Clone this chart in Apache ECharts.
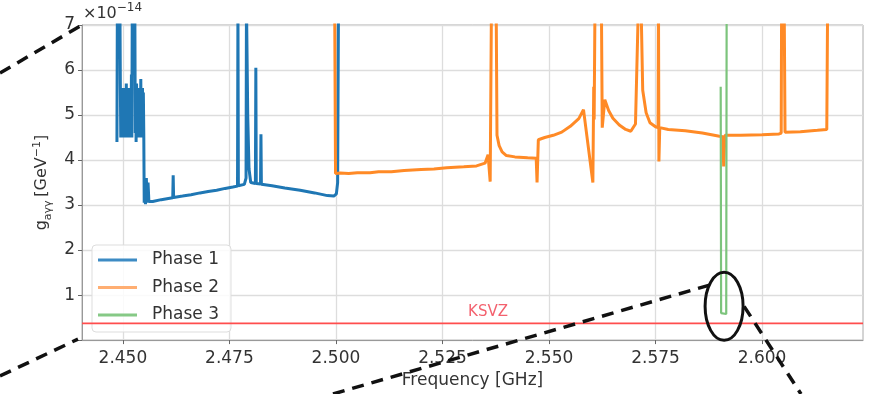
<!DOCTYPE html>
<html><head><meta charset="utf-8">
<script src="https://cdn.jsdelivr.net/npm/echarts@6/dist/echarts.min.js"></script>
<style>html,body{margin:0;padding:0;background:#fff}#c{width:869px;height:394px}</style>
</head><body><div id="c"></div>
<script>
// ---- data (frequency in GHz, coupling in units of 1e-14 GeV^-1) ----
const xMin = 2.4404, xMax = 2.6237;
const xTicks = [2.450, 2.475, 2.500, 2.525, 2.550, 2.575, 2.600];
const yTicks = [0, 1, 2, 3, 4, 5, 6, 7];
const ksvzValue = 0.37;
const ksvzLabelFreq = 2.5357;

const phase1 = [
  [2.4486, 4.4], [2.4487, 7.5], [2.4493, 7.5], [2.4494, 5.7], [2.4495, 4.5], [2.4496, 5.6],
  [2.4497, 4.6], [2.4498, 5.5], [2.4499, 4.5], [2.4500, 5.6], [2.4501, 4.6], [2.4502, 5.3],
  [2.4503, 4.5], [2.4504, 5.6], [2.4505, 4.6], [2.4506, 5.4], [2.4507, 4.7], [2.4508, 5.7],
  [2.4509, 4.5], [2.4510, 5.5], [2.4511, 4.6], [2.4512, 5.2], [2.4513, 4.5], [2.4514, 5.6],
  [2.4515, 4.6], [2.4516, 5.4], [2.4517, 4.5], [2.4518, 5.5], [2.4519, 4.6], [2.4520, 5.9],
  [2.4521, 4.5], [2.4522, 7.5],
  [2.4528, 7.5], [2.4529, 4.6], [2.4530, 5.5], [2.4531, 4.4], [2.4532, 5.7], [2.4533, 4.5],
  [2.4534, 5.5], [2.4535, 4.6], [2.4536, 5.6], [2.4537, 4.5], [2.4538, 5.3], [2.4539, 4.6],
  [2.4540, 5.6], [2.4541, 4.5], [2.4542, 5.8], [2.4543, 4.5], [2.4544, 5.5], [2.4545, 4.6],
  [2.4546, 5.6], [2.4547, 4.6], [2.4548, 5.5], [2.4549, 4.6],
  [2.4550, 3.05], [2.4551, 3.45], [2.4553, 3.02], [2.4555, 3.6], [2.4557, 3.05], [2.4559, 3.5],
  [2.4561, 3.08], [2.4570, 3.08], [2.4590, 3.12], [2.4610, 3.15], [2.4617, 3.16], [2.4618, 3.66],
  [2.4619, 3.17], [2.4640, 3.2], [2.4660, 3.23], [2.4681, 3.27], [2.4700, 3.3], [2.4720, 3.33],
  [2.4740, 3.37], [2.4758, 3.4], [2.4769, 3.42], [2.4770, 7.5], [2.4771, 3.43], [2.4785, 3.46],
  [2.4789, 3.6], [2.4790, 7.5], [2.4792, 7.5], [2.4793, 4.97], [2.4796, 3.8], [2.4800, 3.5],
  [2.4811, 3.48], [2.4812, 6.05], [2.4813, 3.48], [2.4823, 3.47], [2.4824, 4.57], [2.4825, 3.46],
  [2.4850, 3.43], [2.4880, 3.38], [2.4916, 3.33], [2.4950, 3.27], [2.4980, 3.21], [2.4995, 3.2],
  [2.5001, 3.25], [2.5004, 3.5], [2.5006, 7.5]
];

const phase2 = [
  [2.4997, 7.5], [2.4999, 3.70], [2.5010, 3.71], [2.5030, 3.70], [2.5050, 3.72], [2.5080, 3.72],
  [2.5100, 3.74], [2.5130, 3.74], [2.5160, 3.77], [2.5200, 3.79], [2.5230, 3.80], [2.5260, 3.83],
  [2.5300, 3.85], [2.5330, 3.87], [2.5350, 3.93], [2.5357, 4.12], [2.5362, 3.52], [2.5365, 7.5],
  [2.5376, 7.5], [2.5378, 4.55], [2.5383, 4.32], [2.5390, 4.18], [2.5400, 4.10], [2.5420, 4.07],
  [2.5450, 4.05], [2.5470, 4.04], [2.5472, 3.50], [2.5475, 4.45], [2.5490, 4.50], [2.5510, 4.55],
  [2.5530, 4.62], [2.5550, 4.75], [2.5570, 4.92], [2.5581, 5.12], [2.5603, 3.50], [2.5605, 5.63],
  [2.5606, 4.9], [2.5608, 7.5], [2.5623, 7.5], [2.5625, 4.72], [2.5631, 5.34], [2.5640, 5.1],
  [2.5650, 4.93], [2.5665, 4.78], [2.5680, 4.68], [2.5692, 4.64], [2.5703, 4.8], [2.5710, 7.5],
  [2.5716, 7.5], [2.5720, 5.55], [2.5728, 5.05], [2.5737, 4.83], [2.5750, 4.74], [2.5756, 4.72],
  [2.5757, 7.5], [2.5758, 3.97], [2.5760, 4.72], [2.5780, 4.68], [2.5820, 4.65], [2.5860, 4.6],
  [2.5900, 4.53], [2.5908, 4.52], [2.5910, 3.86], [2.5913, 4.55], [2.5950, 4.55], [2.6000, 4.56],
  [2.6040, 4.58], [2.6045, 4.6], [2.6046, 7.5], [2.6052, 7.5], [2.6054, 4.62], [2.6090, 4.63],
  [2.6130, 4.66], [2.6152, 4.68], [2.6154, 7.5]
];

const phase3 = [
  [2.5903, 5.63], [2.5904, 0.60], [2.5916, 0.58], [2.5917, 7.5]
];

// zoom-inset annotation: ellipse around the phase 3 dip (data coords)
const ellipseCenter = [2.5911, 0.75];

const FONT = 'DejaVu Sans';
const chart = echarts.init(document.getElementById('c'), null, {renderer: 'canvas'});

const option = {
  animation: false,
  backgroundColor: '#fff',
  grid: {left: 82, right: 6, top: 25, bottom: 53, show: true, borderColor: '#aaa', borderWidth: 1},
  legend: {
    left: 92, top: 245, orient: 'vertical',
    padding: [6, 12, 8, 6], itemGap: 9.5, itemWidth: 39, itemHeight: 3,
    backgroundColor: 'rgba(255,255,255,0.85)', borderColor: '#ddd', borderWidth: 1, borderRadius: 4,
    textStyle: {fontFamily: FONT, fontSize: 17, color: '#333', lineHeight: 18, padding: [0, 0, 0, 10]},
    data: [
      {name: 'Phase 1', icon: 'rect', itemStyle: {color: '#3d8bc4'}},
      {name: 'Phase 2', icon: 'rect', itemStyle: {color: '#ffae72'}},
      {name: 'Phase 3', icon: 'rect', itemStyle: {color: '#86c986'}}
    ]
  },
  xAxis: {
    type: 'value', min: xMin, max: xMax,
    name: 'Frequency [GHz]', nameLocation: 'middle', nameGap: 31,
    nameTextStyle: {fontFamily: FONT, fontSize: 17, color: '#333'},
    axisLine: {lineStyle: {color: '#999'}},
    axisTick: {show: true, length: 4, lineStyle: {color: '#666'}, customValues: xTicks},
    axisLabel: {customValues: xTicks, margin: 10, fontFamily: FONT, fontSize: 17, color: '#333',
      formatter: v => v.toFixed(3)},
    splitLine: {show: true, lineStyle: {color: '#ddd', width: 1.3}}
  },
  yAxis: {
    type: 'value', min: 0, max: 7, interval: 1,
    name: '{m|g}{s|aγγ} {m|[GeV}{p|−1}{m|]}', nameLocation: 'middle', nameRotate: 90, nameGap: 27,
    nameTextStyle: {
      fontFamily: FONT, color: '#333',
      rich: {
        m: {fontFamily: FONT, fontSize: 16, color: '#333', lineHeight: 22},
        s: {fontFamily: FONT, fontSize: 11, color: '#333', verticalAlign: 'bottom', lineHeight: 22},
        p: {fontFamily: FONT, fontSize: 11, color: '#333', verticalAlign: 'top', lineHeight: 22}
      }
    },
    axisLine: {show: true, lineStyle: {color: '#999'}},
    axisTick: {show: true, length: 4, lineStyle: {color: '#666'}},
    axisLabel: {margin: 7, fontFamily: FONT, fontSize: 17, color: '#333',
      formatter: v => (v === 0 ? '' : String(v))},
    splitLine: {show: true, lineStyle: {color: '#ddd', width: 1.3}}
  },
  series: [
    {name: 'Phase 1', type: 'line', data: phase1, showSymbol: false, clip: true,
      lineStyle: {color: '#1f77b4', width: 3}, itemStyle: {color: '#1f77b4'}, z: 2},
    {name: 'Phase 2', type: 'line', data: phase2, showSymbol: false, clip: true,
      lineStyle: {color: '#ff8a26', width: 3}, itemStyle: {color: '#ff8a26'}, z: 3},
    {name: 'Phase 3', type: 'line', data: phase3, showSymbol: false, clip: true,
      lineStyle: {color: '#7cc47c', width: 2.2}, itemStyle: {color: '#7cc47c'}, z: 4},
    {name: 'KSVZ', type: 'line', showSymbol: false, clip: true, silent: true, z: 5,
      lineStyle: {color: '#ff4d4d', width: 1.8},
      data: [[xMin, ksvzValue], [xMax, ksvzValue]]},
    {name: 'KSVZ label', type: 'scatter', silent: true, z: 5, symbolSize: 0,
      data: [[ksvzLabelFreq, ksvzValue]],
      label: {show: true, position: 'top', distance: 4, formatter: 'KSVZ',
        fontFamily: FONT, fontSize: 15, color: '#f03a4a'}}
  ]
};
chart.setOption(option);

// annotation overlay (zoom-inset markers), anchored to the chart coordinates
const c = chart.convertToPixel({gridIndex: 0}, ellipseCenter);
const tl = chart.convertToPixel({gridIndex: 0}, [xMin, 7]);
const bl = chart.convertToPixel({gridIndex: 0}, [xMin, 0]);
const dash = {stroke: '#111', lineWidth: 3.5, lineDash: [12, 8]};
chart.setOption({
  graphic: [
    {type: 'line', z: 100, shape: {x1: 0, y1: 73, x2: tl[0], y2: tl[1]}, style: dash},
    {type: 'line', z: 100, shape: {x1: 0, y1: 376, x2: bl[0] - 4, y2: bl[1] - 1}, style: dash},
    {type: 'line', z: 100, shape: {x1: 333, y1: 394, x2: c[0] - 12, y2: c[1] - 22}, style: dash},
    {type: 'line', z: 100, shape: {x1: c[0] + 20, y1: c[1], x2: 801, y2: 394}, style: dash},
    {type: 'ellipse', z: 100, shape: {cx: c[0], cy: c[1], rx: 19, ry: 34},
      style: {fill: null, stroke: '#111', lineWidth: 3}},
    {type: 'text', z: 100, left: 83, top: 2,
      style: {text: '{a|×10}{b|−14}', fill: '#333',
        rich: {a: {fontFamily: FONT, fontSize: 16, fill: '#333', lineHeight: 20, verticalAlign: 'bottom'},
               b: {fontFamily: FONT, fontSize: 12, fill: '#333', lineHeight: 20, verticalAlign: 'top'}}}}
  ]
});
</script>
</body></html>
